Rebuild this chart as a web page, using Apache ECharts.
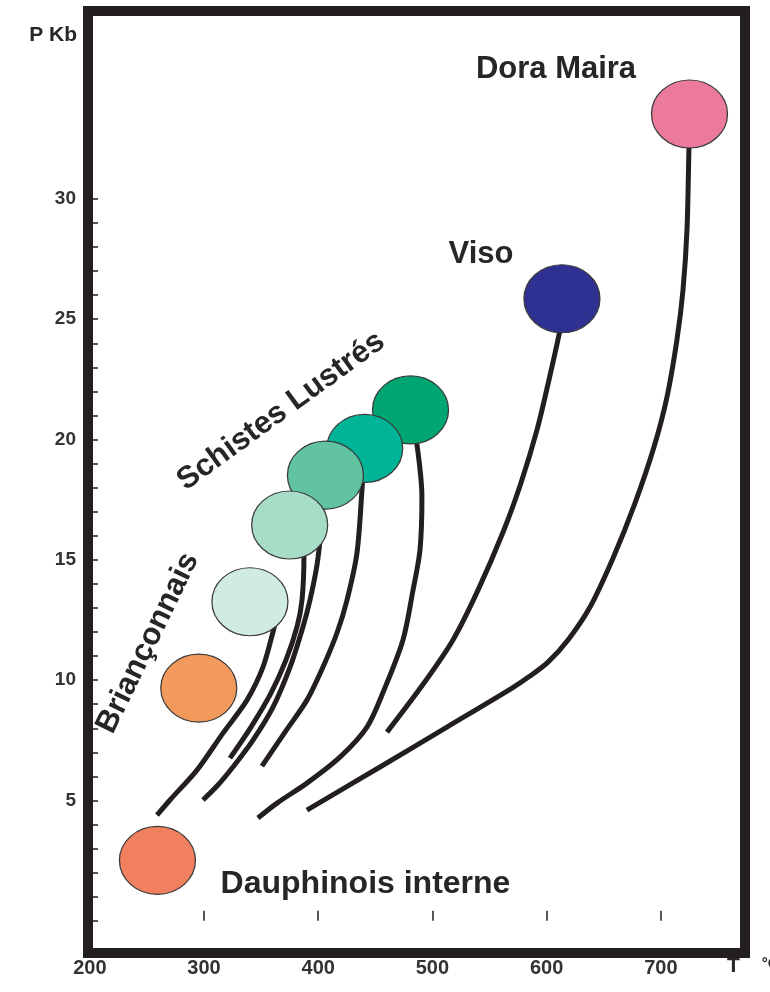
<!DOCTYPE html>
<html><head><meta charset="utf-8">
<script src="https://cdn.jsdelivr.net/npm/echarts@6/dist/echarts.min.js"></script>
<style>html,body{margin:0;padding:0;background:#fff}#c{width:770px;height:992px}</style>
</head><body><div id="c"></div>
<script>
// ---- axis ticks / labels ----
const xLabelValues = [200, 300, 400, 500, 600, 700];
const xTickValues = [300, 400, 500, 600, 700];
const yLabelValues = [5, 10, 15, 20, 25, 30];
const yTickValues = [0, 1, 2, 3, 4, 5, 6, 7, 8, 9, 10, 11, 12, 13, 14, 15, 16, 17, 18, 19, 20, 21, 22, 23, 24, 25, 26, 27, 28, 29, 30];
const xAxisTitle = 'T';
const xAxisUnit = '°C';
const yAxisTitle = 'P Kb';

// ---- P-T fields (ellipses), drawn back to front ----
const unitNames = ['Dora Maira', 'Viso', 'Schistes Lustrés 5', 'Schistes Lustrés 4', 'Schistes Lustrés 3', 'Schistes Lustrés 2', 'Schistes Lustrés 1', 'Briançonnais', 'Dauphinois interne'];
const unitT = [725.1, 613.4, 480.8, 440.7, 406.3, 375.0, 340.2, 295.4, 259.2];
const unitP = [33.53, 25.85, 21.23, 19.63, 18.52, 16.45, 13.26, 9.67, 2.51];
const unitColors = ['#ec7b9b', '#2e3192', '#00a672', '#00b498', '#62c3a3', '#a7dcc6', '#d0ece1', '#f29a5b', '#f0805f'];

// ---- retrograde P-T paths [T, P] ----
const pathDoraMaira = [[725.1, 32.86], [724.6, 32.03], [722.9, 28.71], [719.4, 26.21], [714.1, 24.14], [705.4, 21.77], [694.0, 19.69], [677.4, 17.36], [658.1, 15.07], [638.0, 13.04], [618.7, 11.67], [601.2, 10.75], [585.4, 10.17], [569.7, 9.67], [512.7, 8.05], [454.1, 6.39], [390.1, 4.60]];
const pathViso = [[613.4, 25.05], [610.8, 24.34], [602.0, 22.47], [591.5, 20.39], [577.5, 18.19], [562.6, 16.24], [539.9, 13.74], [518.0, 11.67], [492.6, 9.88], [460.2, 7.84]];
const pathSL5 = [[482.1, 20.60], [486.5, 19.77], [490.8, 17.61], [489.1, 15.41], [483.0, 13.74], [474.2, 11.67], [457.6, 9.59], [442.7, 8.05], [419.0, 6.80], [390.1, 5.72], [363.9, 4.89], [347.2, 4.27]];
const pathSL4 = [[439.2, 18.73], [438.3, 17.90], [433.9, 15.28], [425.2, 13.33], [416.4, 11.96], [404.1, 10.54], [390.1, 9.17], [370.9, 7.84], [350.7, 6.43]];
const pathSL3 = [[404.1, 17.69], [402.4, 16.24], [398.9, 14.78], [392.8, 13.33], [386.6, 12.21], [375.3, 10.54], [360.4, 8.88], [342.9, 7.51], [325.3, 6.39], [312.2, 5.64], [299.1, 5.02]];
const pathSL2 = [[385.8, 16.03], [387.5, 15.20], [385.8, 13.33], [381.4, 12.21], [371.8, 10.84], [358.6, 9.46], [341.1, 8.05], [322.7, 6.76]];
const pathSL1 = [[363.0, 12.50], [360.4, 12.00], [351.6, 10.54], [337.6, 9.17], [316.6, 7.80], [293.8, 6.26], [270.2, 5.02], [258.8, 4.39]];

// ---- annotations ----
const annotationTexts = ['Dora Maira', 'Viso', 'Schistes Lustrés', 'Briançonnais', 'Dauphinois interne'];
const annotationT = [608.2, 542.5, 367.4, 250.9, 441.4];
const annotationP = [35.36, 27.71, 21.18, 11.54, 1.53];
const annotationAngles = [0, 0, 36, 64, 0];
const annotationSizes = [31, 31, 31, 31, 32];

const INK = '#231f20';
const TEXT = '#262626';
const FONT = '"Liberation Sans", Arial, Helvetica, sans-serif';

const paths = [pathDoraMaira, pathViso, pathSL5, pathSL4, pathSL3, pathSL2, pathSL1];
const lineSeries = paths.map(function (p) {
  return {
    type: 'line', data: p, showSymbol: false, symbol: 'none', smooth: 0.3,
    lineStyle: { color: INK, width: 5, cap: 'butt' }, z: 2, silent: true
  };
});

const chart = echarts.init(document.getElementById('c'), null, { renderer: 'canvas' });
chart.setOption({
  animation: false,
  backgroundColor: '#ffffff',
  textStyle: { fontFamily: FONT },
  title: {
    text: xAxisTitle + '{u|' + xAxisUnit + '}', left: 727, top: 956, padding: 0, itemGap: 0,
    textStyle: { fontSize: 21, fontWeight: 'bold', color: TEXT, fontFamily: FONT,
      rich: { u: { fontSize: 15, fontWeight: 'bold', color: TEXT, padding: [0, 0, 5, 22], fontFamily: FONT } } }
  },
  grid: { left: 88, right: 25, top: 11, bottom: 39, show: true, borderWidth: 10, borderColor: INK, backgroundColor: 'transparent', containLabel: false, outerBoundsMode: 'none' },
  xAxis: {
    type: 'value', min: 198.4, max: 773.7,
    axisLine: { show: false },
    splitLine: { show: false },
    axisTick: { show: true, inside: true, length: 10, lineStyle: { color: INK, width: 1.5 }, customValues: xTickValues },
    axisLabel: { show: true, customValues: xLabelValues, margin: 5, fontSize: 20, fontWeight: 'bold', color: '#333333', fontFamily: FONT }
  },
  yAxis: {
    type: 'value', min: -1.34, max: 37.81,
    axisLine: { show: false },
    splitLine: { show: false },
    axisTick: { show: true, inside: true, length: 10, lineStyle: { color: INK, width: 1.5 }, customValues: yTickValues },
    axisLabel: { show: true, customValues: yLabelValues, margin: 12, fontSize: 19, fontWeight: 'bold', color: '#333333', fontFamily: FONT },
    name: yAxisTitle, nameLocation: 'end', nameGap: -24.5, nameMoveOverlap: false,
    nameTextStyle: { align: 'right', verticalAlign: 'middle', padding: [0, 11, 0, 0], fontSize: 21, fontWeight: 'bold', color: TEXT, fontFamily: FONT }
  },
  series: lineSeries.concat([
    {
      type: 'scatter', z: 3, silent: true,
      symbol: 'circle', symbolSize: [76, 68],
      data: unitNames.map(function (n, i) {
        return { name: n, value: [unitT[i], unitP[i]], itemStyle: { color: unitColors[i] } };
      }),
      itemStyle: { borderColor: '#3a3a3a', borderWidth: 1.2, opacity: 1 }
    },
    {
      type: 'scatter', z: 4, silent: true, symbolSize: 0,
      itemStyle: { opacity: 1 },
      data: annotationTexts.map(function (t, i) {
        return { name: t, value: [annotationT[i], annotationP[i]], label: { rotate: annotationAngles[i], fontSize: annotationSizes[i] } };
      }),
      label: { show: true, position: 'inside', formatter: '{b}', fontSize: 30, fontWeight: 'bold', color: TEXT, fontFamily: FONT, align: 'center', verticalAlign: 'middle', opacity: 1 }
    }
  ])
});
</script>
</body></html>
